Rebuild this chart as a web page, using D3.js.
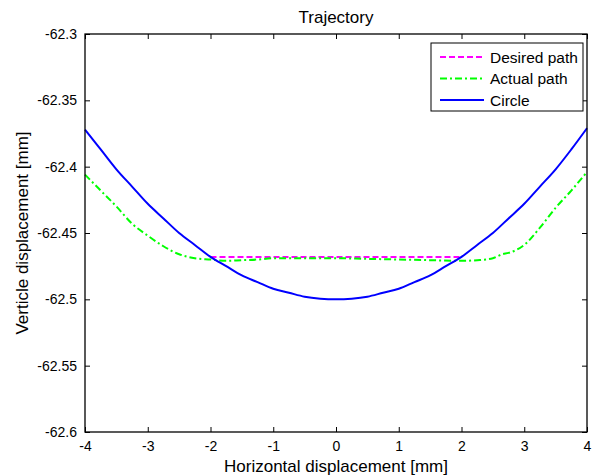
<!DOCTYPE html>
<html lang="en">
<head>
<meta charset="utf-8">
<script src="https://d3js.org/d3.v7.min.js"></script>
<style>
  body { margin: 0; background: #fff; }
  svg text { font-family: "Liberation Sans", Arial, sans-serif; fill: #000; }
</style>
<title>Trajectory</title>
</head>
<body>
<div id="chart"></div>
<script>
// data
var xTicks = [-4, -3, -2, -1, 0, 1, 2, 3, 4];
var yTicks = [-62.3, -62.35, -62.4, -62.45, -62.5, -62.55, -62.6];
var legendNames = ["Desired path", "Actual path", "Circle"];

var desiredX = [-2, 2];
var desiredY = [-62.468, -62.468];

var actualX = [-4, -3.75, -3.5, -3.25, -3, -2.75, -2.5, -2.25, -2, -1.75, -1.5, -1.25, -1, -0.5, 0, 0.5, 1, 1.5, 2, 2.25, 2.5, 2.65, 2.75, 3, 3.25, 3.5, 3.75, 4];
var actualY = [-62.406, -62.418, -62.430, -62.443, -62.452, -62.460, -62.466, -62.469, -62.470, -62.471, -62.4705, -62.470, -62.469, -62.469, -62.469, -62.4695, -62.470, -62.4705, -62.471, -62.4705, -62.469, -62.466, -62.465, -62.459, -62.446, -62.431, -62.418, -62.404];

var circleX = [-4, -3.75, -3.5, -3.25, -3, -2.75, -2.5, -2.25, -2, -1.75, -1.5, -1.25, -1, -0.75, -0.5, -0.25, 0, 0.25, 0.5, 0.75, 1, 1.25, 1.5, 1.75, 2, 2.25, 2.5, 2.75, 3, 3.25, 3.5, 3.75, 4];
var circleY = [-62.372, -62.387, -62.402, -62.415, -62.428, -62.439, -62.450, -62.459, -62.468, -62.475, -62.482, -62.487, -62.492, -62.495, -62.498, -62.4995, -62.5, -62.4995, -62.498, -62.495, -62.492, -62.487, -62.482, -62.475, -62.468, -62.459, -62.450, -62.439, -62.428, -62.415, -62.402, -62.387, -62.371];

var margin = {top: 34, right: 9, bottom: 44, left: 85},
    width = 596 - margin.left - margin.right,
    height = 476 - margin.top - margin.bottom;

var svg = d3.select("#chart")
  .append("svg")
    .attr("width", 596)
    .attr("height", 476);

var g = svg.append("g")
    .attr("transform", "translate(" + margin.left + "," + margin.top + ")");

var x = d3.scaleLinear().domain([-4, 4]).range([0, width]);
var y = d3.scaleLinear().domain([-62.6, -62.3]).range([height, 0]);

var series = [
  {name: legendNames[0], xs: desiredX, ys: desiredY, color: "#ff00ff", dash: "6,3"},
  {name: legendNames[1], xs: actualX, ys: actualY, color: "#00ff00", dash: "7,3,2,3"},
  {name: legendNames[2], xs: circleX, ys: circleY, color: "#0000ff", dash: null}
];

var line = d3.line()
  .curve(d3.curveMonotoneX)
  .x(function(d) { return x(d[0]); })
  .y(function(d) { return y(d[1]); });

g.append("rect")
  .attr("width", width).attr("height", height)
  .attr("fill", "#fff");

series.forEach(function(s) {
  g.append("path")
    .datum(s.xs.map(function(v, i) { return [v, s.ys[i]]; }))
    .attr("fill", "none")
    .attr("stroke", s.color)
    .attr("stroke-width", 2)
    .attr("stroke-dasharray", s.dash)
    .attr("d", line);
});

// axes with inward ticks on all sides
function styleAxis(sel) {
  sel.select(".domain").remove();
  sel.selectAll("line").attr("stroke", "#000");
  sel.selectAll("text").style("font-size", "14px");
}

g.append("g")
  .attr("transform", "translate(0," + height + ")")
  .call(d3.axisBottom(x).tickValues(xTicks).tickSizeInner(-5).tickPadding(9).tickFormat(function(d) { return String(d); }))
  .call(styleAxis);

g.append("g")
  .call(d3.axisLeft(y).tickValues(yTicks).tickSizeInner(-5).tickPadding(8).tickFormat(function(d) { return String(d); }))
  .call(styleAxis);

g.append("g")
  .call(d3.axisTop(x).tickValues(xTicks).tickSizeInner(-5).tickFormat(""))
  .call(styleAxis);

g.append("g")
  .attr("transform", "translate(" + width + ",0)")
  .call(d3.axisRight(y).tickValues(yTicks).tickSizeInner(-5).tickFormat(""))
  .call(styleAxis);

g.append("rect")
  .attr("width", width).attr("height", height)
  .attr("fill", "none").attr("stroke", "#000").attr("stroke-width", 1.3);

// labels
svg.append("text")
  .attr("x", margin.left + width / 2).attr("y", 23)
  .attr("text-anchor", "middle")
  .style("font-size", "17px")
  .text("Trajectory");

svg.append("text")
  .attr("x", margin.left + width / 2).attr("y", 472)
  .attr("text-anchor", "middle")
  .style("font-size", "17px")
  .text("Horizontal displacement [mm]");

svg.append("text")
  .attr("transform", "translate(28," + (margin.top + height / 2) + ") rotate(-90)")
  .attr("text-anchor", "middle")
  .style("font-size", "17px")
  .text("Verticle displacement [mm]");

// legend
var legend = svg.append("g").attr("transform", "translate(431,43)");
legend.append("rect")
  .attr("width", 152).attr("height", 68)
  .attr("fill", "#fff").attr("stroke", "#000").attr("stroke-width", 1);

series.forEach(function(s, i) {
  var ly = 14 + i * 21.5;
  legend.append("line")
    .attr("x1", 9).attr("x2", 53).attr("y1", ly).attr("y2", ly)
    .attr("stroke", s.color).attr("stroke-width", 2)
    .attr("stroke-dasharray", s.dash);
  legend.append("text")
    .attr("x", 59).attr("y", ly + 5.5)
    .style("font-size", "15.5px")
    .text(s.name);
});
</script>
</body>
</html>
